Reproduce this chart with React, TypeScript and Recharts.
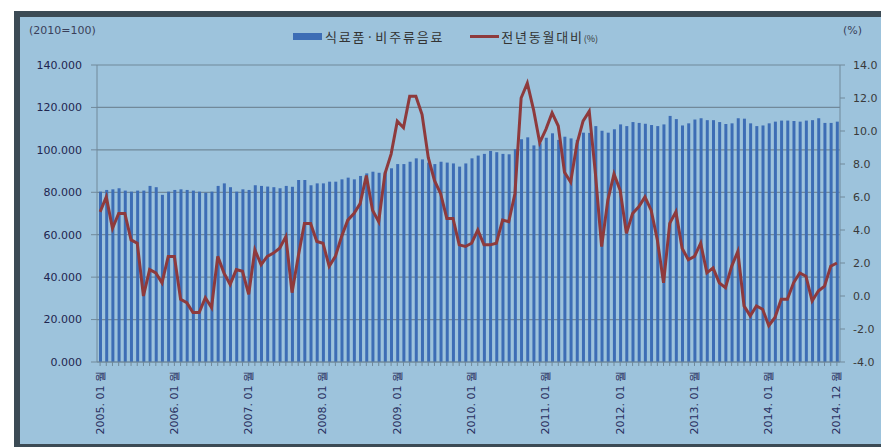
import React from 'react';
import { ComposedChart, Bar, Line, XAxis, YAxis, CartesianGrid } from 'recharts';

// monthly categories, 2005.01 - 2014.12
const YEARS = ['2005', '2006', '2007', '2008', '2009', '2010', '2011', '2012', '2013', '2014'];
const MONTHS = ['01', '02', '03', '04', '05', '06', '07', '08', '09', '10', '11', '12'];
const CATEGORIES = YEARS.flatMap((y) => MONTHS.map((m) => `${y}. ${m}`));

// 식료품·비주류음료 지수 (2010=100)
const PRICE_INDEX = [
  80.3, 81.1, 81.4, 81.9, 80.8, 80.3, 80.8, 80.8, 83.0, 82.4, 78.8, 80.3,
  81.1, 81.4, 81.1, 80.8, 80.3, 79.8, 80.3, 83.0, 84.2, 82.4, 80.3, 81.4,
  81.1, 83.3, 83.0, 82.7, 82.4, 81.9, 83.0, 82.6, 85.8, 85.8, 83.3, 84.2,
  84.2, 85.0, 85.0, 86.1, 86.9, 86.1, 87.7, 88.9, 89.7, 89.2, 89.7, 91.3,
  93.3, 93.3, 94.4, 96.0, 95.5, 94.0, 93.3, 94.4, 94.0, 93.6, 92.1, 93.6,
  96.0, 97.3, 98.1, 99.5, 98.9, 98.1, 97.9, 100.3, 105.0, 105.9, 102.1, 103.1,
  105.7, 107.8, 104.7, 106.2, 105.4, 104.7, 108.1, 108.0, 111.2, 109.0, 108.1, 109.7,
  112.0, 111.2, 113.1, 112.7, 112.3, 111.7, 111.2, 112.0, 116.0, 114.5, 111.5, 112.5,
  114.3, 114.9, 114.0, 114.0, 113.1, 112.2, 112.5, 114.9, 114.7, 112.5, 111.2, 111.5,
  112.5, 113.3, 113.8, 113.8, 113.6, 113.3, 113.8, 114.0, 114.9, 112.7, 112.7, 113.3,
];

// 전년동월대비 (%)
const YOY = [
  5.1, 6.0, 4.1, 5.0, 5.0, 3.4, 3.2, 0.0, 1.6, 1.4, 0.8, 2.4,
  2.4, -0.2, -0.4, -1.0, -1.0, -0.1, -0.7, 2.4, 1.4, 0.7, 1.6, 1.5,
  0.1, 2.8, 1.9, 2.4, 2.6, 2.9, 3.6, 0.2, 2.4, 4.4, 4.4, 3.3,
  3.2, 1.8, 2.4, 3.6, 4.6, 5.0, 5.6, 7.3, 5.2, 4.5, 7.4, 8.6,
  10.6, 10.2, 12.1, 12.1, 11.0, 8.4, 7.0, 6.2, 4.7, 4.7, 3.1, 3.0,
  3.2, 4.0, 3.1, 3.1, 3.2, 4.6, 4.5, 6.2, 12.0, 12.9, 11.3, 9.3,
  10.1, 11.1, 10.3, 7.5, 6.9, 9.2, 10.6, 11.2, 7.4, 3.0, 5.8, 7.4,
  6.4, 3.8, 5.0, 5.4, 6.0, 5.2, 3.4, 0.8, 4.4, 5.1, 2.9, 2.2,
  2.4, 3.2, 1.4, 1.7, 0.8, 0.5, 1.8, 2.7, -0.6, -1.2, -0.6, -0.8,
  -1.8, -1.3, -0.2, -0.2, 0.8, 1.4, 1.2, -0.3, 0.3, 0.6, 1.8, 2.0,
];

const LEFT_TICKS = [0, 20, 40, 60, 80, 100, 120, 140];
const RIGHT_TICKS = [-4, -2, 0, 2, 4, 6, 8, 10, 12, 14];

const rows = CATEGORIES.map((month, i) => ({ month, index: PRICE_INDEX[i], yoy: YOY[i] }));

const NUM_FONT = '"DejaVu Sans", "Liberation Sans", sans-serif';
const KR_FONT = '"Noto Sans CJK KR", "DejaVu Sans", sans-serif';
const GRID = '#71899a';

function MonthTick({ x, y, payload }: any) {
  const v: string = payload.value;
  const show = v.endsWith('. 01') || v === CATEGORIES[CATEGORIES.length - 1];
  if (!show) return <g />;
  return (
    <text
      transform={`translate(${x},${y + 3}) rotate(-90)`}
      textAnchor="end"
      dominantBaseline="central"
      fontSize={11}
      fontFamily={NUM_FONT}
      fill="#2a3060"
    >
      {v} 월
    </text>
  );
}

export default function App() {
  return (
    <div style={{ position: 'absolute', left: 0, top: 0, width: 881, height: 447, overflow: 'hidden', background: '#fff' }}>
      <div
        style={{
          position: 'absolute',
          left: 14,
          top: 11,
          width: 900,
          height: 436,
          boxSizing: 'border-box',
          borderTop: '6px solid #3c4b55',
          borderLeft: '6px solid #3c4b55',
          borderBottom: '3px solid #3c4b55',
          background: '#9dc3dc',
        }}
      />
      <div style={{ position: 'absolute', left: 29, top: 24, fontSize: 11, fontFamily: NUM_FONT, color: '#3a3f5a' }}>(2010=100)</div>
      <div style={{ position: 'absolute', left: 843, top: 24, fontSize: 11, fontFamily: NUM_FONT, color: '#3a3f5a' }}>(%)</div>
      <div
        style={{
          position: 'absolute',
          left: 293,
          top: 27,
          display: 'flex',
          alignItems: 'center',
          fontFamily: KR_FONT,
          fontSize: 13,
          letterSpacing: 1.8,
          color: '#333',
          whiteSpace: 'nowrap',
        }}
      >
        <span style={{ display: 'inline-block', width: 29, height: 7, background: '#3d6db5', marginRight: 3 }} />
        <span>식료품·비주류음료</span>
        <span style={{ display: 'inline-block', width: 29, height: 2.5, background: '#8e3a3c', marginLeft: 26, marginRight: 2 }} />
        <span>
          전년동월대비<span style={{ fontSize: 9, letterSpacing: 0 }}>(%)</span>
        </span>
      </div>
      <div style={{ position: 'absolute', left: 0, top: 0 }}>
        <ComposedChart width={881} height={447} data={rows} margin={{ top: 65, right: 0, bottom: 5, left: 0 }}>
          <CartesianGrid yAxisId="left" vertical={false} stroke={GRID} strokeWidth={1.2} />
          <XAxis
            dataKey="month"
            interval={0}
            height={80}
            tickSize={4}
            tickLine={{ stroke: GRID }}
            axisLine={{ stroke: GRID }}
            tick={<MonthTick />}
          />
          <YAxis
            yAxisId="left"
            width={97}
            domain={[0, 140]}
            ticks={LEFT_TICKS}
            tickFormatter={(v: number) => v.toFixed(3)}
            tickSize={6}
            tickMargin={9}
            tick={{ fontSize: 11, fill: '#1f2550', fontFamily: NUM_FONT }}
            tickLine={{ stroke: GRID }}
            axisLine={{ stroke: GRID }}
          />
          <YAxis
            yAxisId="right"
            orientation="right"
            width={41}
            domain={[-4, 14]}
            ticks={RIGHT_TICKS}
            tickFormatter={(v: number) => v.toFixed(1)}
            tickSize={5}
            tickMargin={8}
            tick={{ fontSize: 11, fill: '#3a3a3a', fontFamily: NUM_FONT }}
            tickLine={{ stroke: GRID }}
            axisLine={{ stroke: GRID }}
          />
          <Bar yAxisId="left" dataKey="index" fill="#3d6db5" barSize={3} isAnimationActive={false} />
          <Line
            yAxisId="right"
            dataKey="yoy"
            type="linear"
            stroke="#8e3a3c"
            strokeWidth={3}
            dot={false}
            isAnimationActive={false}
          />
        </ComposedChart>
      </div>
    </div>
  );
}
